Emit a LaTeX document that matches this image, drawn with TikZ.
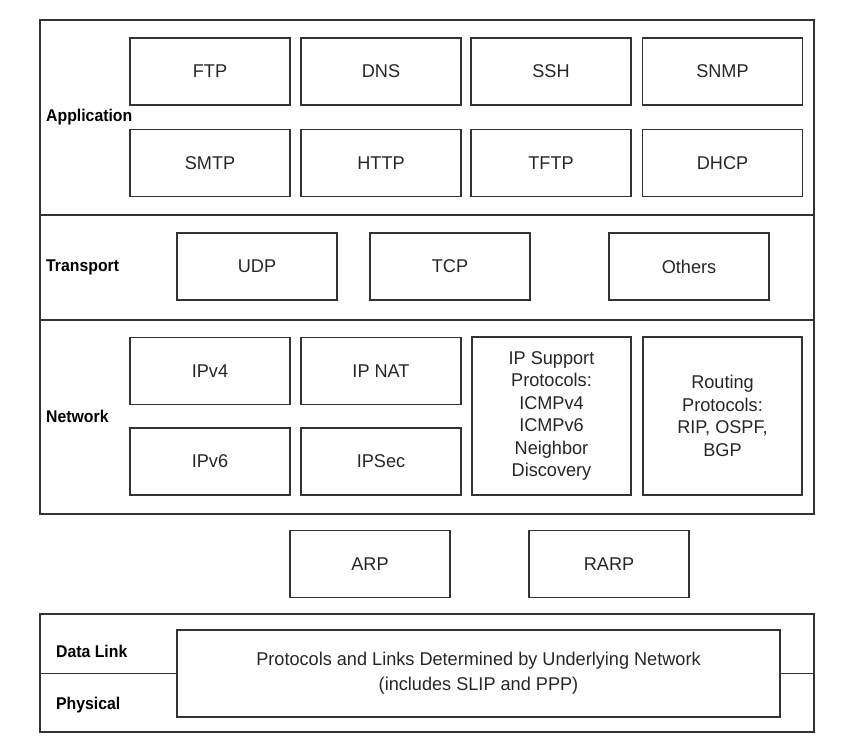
\documentclass[tikz,border=0pt]{standalone}
\usepackage{fontspec}
\setmainfont{Liberation Sans}[FakeStretch=0.98]
\newfontfamily\layerfont{Liberation Sans}[FakeStretch=0.93]
\usepackage{tikz}

\tikzset{
  frame/.style={draw=black!80,line width=1.2pt,inner sep=0pt},
  proto/.style={draw=black!80,line width=1.2pt,inner sep=0pt,
    minimum width=160pt,minimum height=67pt,align=center,
    text=black!85,font=\fontsize{18.5}{22.5}\selectfont},
  layername/.style={anchor=west,inner sep=0pt,text=black,
    font=\layerfont\fontsize{17}{20}\selectfont\bfseries}
}

\begin{document}
\begin{tikzpicture}[x=1pt,y=-1pt]
  \useasboundingbox (0,0) rectangle (860,742);
  % ── Frames ──────────────────────────────────────────
  \node[frame,minimum width=774pt,minimum height=494pt] (stack) at (427,267) {};
  \node[frame,minimum width=774pt,minimum height=118pt] (lower) at (427,673) {};
  \coordinate (cut1) at (427,215);
  \coordinate (cut2) at (427,320);
  \draw[black!80,line width=1.2pt] (stack.west |- cut1) -- (stack.east |- cut1);
  \draw[black!80,line width=1.2pt] (stack.west |- cut2) -- (stack.east |- cut2);
  % ── Application ────────────────────────────────────
  \node[proto] (ftp)  at (210,71.5)   {FTP};
  \node[proto] (dns)  at (381,71.5)   {DNS};
  \node[proto] (ssh)  at (551,71.5)   {SSH};
  \node[proto] (snmp) at (722.5,71.5) {SNMP};
  \node[proto] (smtp) at (210,163)    {SMTP};
  \node[proto] (http) at (381,163)    {HTTP};
  \node[proto] (tftp) at (551,163)    {TFTP};
  \node[proto] (dhcp) at (722.5,163)  {DHCP};
  % ── Transport ──────────────────────────────────────
  \node[proto] (udp)    at (257,266.5) {UDP};
  \node[proto] (tcp)    at (450,266.5) {TCP};
  \node[proto] (others) at (689,266.5) {Others};
  % ── Network ────────────────────────────────────────
  \node[proto] (ipv4)  at (210,371)   {IPv4};
  \node[proto] (ipnat) at (381,371)   {IP NAT};
  \node[proto] (ipv6)  at (210,461.5) {IPv6};
  \node[proto] (ipsec) at (381,461.5) {IPSec};
  \node[proto,minimum width=159pt,minimum height=158pt] (support) at (551.5,416)
    {IP Support\\Protocols:\\ICMPv4\\ICMPv6\\Neighbor\\Discovery};
  \node[proto,minimum width=159pt,minimum height=158pt] (routing) at (722.5,416)
    {Routing\\Protocols:\\RIP, OSPF,\\BGP};
  % ── Between network and link ───────────────────────
  \node[proto] (arp)  at (370,564) {ARP};
  \node[proto] (rarp) at (609,564) {RARP};
  % ── Data link / physical ───────────────────────────
  \node[proto,minimum width=603pt,minimum height=87pt,
        font=\fontsize{18.5}{25}\selectfont] (link) at (478.5,673.5)
    {Protocols and Links Determined by Underlying Network\\(includes SLIP and PPP)};
  \draw[black!80,line width=1.2pt] (link.west) -- (link.west -| lower.west);
  \draw[black!80,line width=1.2pt] (link.east) -- (link.east -| lower.east);
  % ── Layer names ────────────────────────────────────
  \node[layername] (appname)   at (46,117) {Application};
  \node[layername] (transname) at (46,267) {Transport};
  \node[layername] (netname)   at (46,416) {Network};
  \node[layername] (dlname)    at (56,651) {Data Link};
  \node[layername] (physname)  at (56,705) {Physical};
\end{tikzpicture}
\end{document}
